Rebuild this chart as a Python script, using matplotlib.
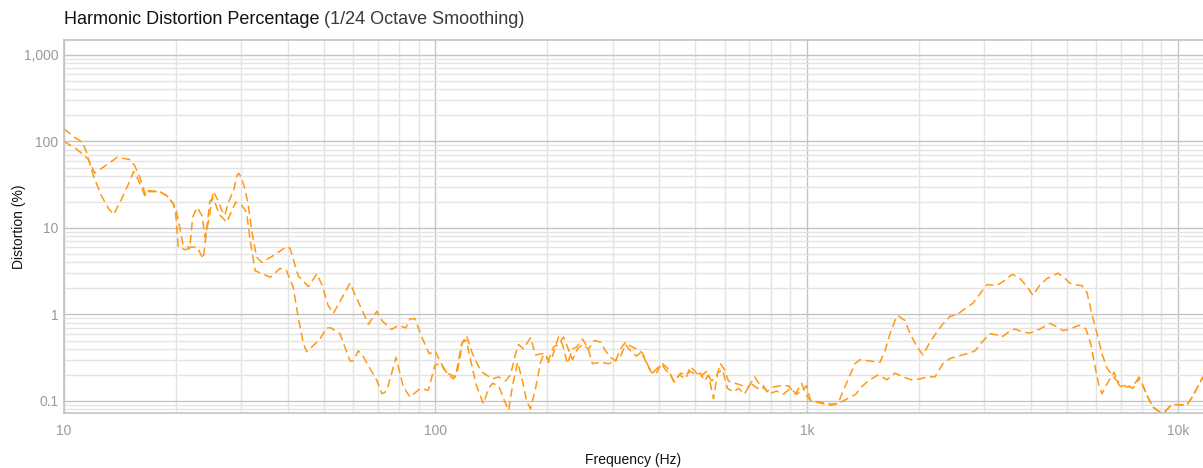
import numpy as np
import matplotlib
matplotlib.use("Agg")
import matplotlib.pyplot as plt
from matplotlib.ticker import FixedLocator, FuncFormatter, LogLocator, NullFormatter

# first harmonic trace (Hz, %)
freq_a = [10.0, 10.7, 11.2, 11.5, 12.0, 12.6, 13.2, 13.6, 14.3, 14.9, 15.4, 15.8, 16.5, 16.8,
          18.1, 18.9, 19.7, 20.0, 20.3, 21.2, 21.8, 22.2, 22.8, 23.5, 24.0, 24.6, 25.2, 26.0,
          26.6, 27.1, 27.7, 28.6, 29.2, 29.5, 30.0, 30.7, 31.3, 32.0, 33.0, 34.1, 36.6, 39.8,
          40.6, 42.7, 45.5, 47.9, 49.5, 51.4, 53.1, 58.9, 61.1, 66.0, 69.5, 71.7, 76.2, 79.4,
          83.2, 85.4, 88.1, 91.8, 96.2, 99.7, 102.8, 107.2,
          113.2, 117.5, 121.2, 125.8, 130.6, 134.6, 142.4, 147.8, 154.3, 159.2, 164.2, 167.3,
          172.5, 180.2, 185.9, 191.7, 197.8, 201.5, 206.5, 214.3, 219.7, 226.6, 233.8, 239.6,
          248.7, 256.5, 264.6, 278.0, 292.1, 305.1, 314.8, 324.7, 334.9, 347.5, 360.7, 374.4,
          383.8, 396.0, 408.3, 421.2, 437.1, 453.7, 470.9, 485.8, 504.2, 516.8, 536.4, 553.3,
          570.7, 584.9, 599.6, 614.6, 642.0, 670.7, 696.0, 722.3, 749.6, 783.0, 812.6, 848.7,
          891.8, 931.1, 966.3, 1003,
          1031, 1084, 1153, 1212, 1250, 1306, 1347, 1389, 1478, 1572, 1622, 1673, 1725, 1758,
          1836, 1894, 1978, 2052, 2143, 2238, 2323, 2426, 2533, 2630, 2797, 2940, 3051, 3246,
          3370, 3520, 3586, 3745, 3910, 4058, 4238, 4426, 4739, 4949, 5105, 5265, 5498, 5672,
          5850, 6035, 6225, 6420, 6622, 6747, 6960, 7267, 7541, 7780, 8025, 8277, 8538, 8917,
          9198, 9487, 9786, 10220, 10540, 10870, 11210, 11640]
dist_a = [140, 111, 98, 75, 40, 23.7, 16.6, 14.3, 21.7, 32, 45, 37, 23.7, 26.3,
          26.3, 23.7, 19, 14, 6.0, 5.6, 5.8, 13.3, 17.3, 14, 7.8, 13.3, 26.5, 20.7,
          15.9, 14, 19.8, 27, 40, 43, 38.5, 28, 19, 9.3, 4.6, 4.0, 4.8, 6.1,
          5.8, 2.8, 2.1, 2.95, 2.2, 1.27, 1.03, 2.3, 1.6, 0.77, 1.09, 0.85, 0.67, 0.75,
          0.70, 0.89, 0.89, 0.55, 0.35, 0.38, 0.29, 0.21,
          0.19, 0.45, 0.57, 0.35, 0.25, 0.21, 0.18, 0.19, 0.17, 0.20, 0.35, 0.45,
          0.40, 0.54, 0.34, 0.35, 0.35, 0.28, 0.33, 0.55, 0.45, 0.27, 0.40, 0.42,
          0.52, 0.42, 0.27, 0.28, 0.27, 0.29, 0.40, 0.48, 0.43, 0.40, 0.36, 0.25,
          0.21, 0.24, 0.27, 0.24, 0.17, 0.20, 0.18, 0.25, 0.21, 0.19, 0.22, 0.17,
          0.19, 0.27, 0.23, 0.17, 0.16, 0.15, 0.145, 0.19, 0.15, 0.13, 0.145, 0.15,
          0.15, 0.12, 0.16, 0.11,
          0.10, 0.095, 0.089, 0.093, 0.13, 0.20, 0.27, 0.30, 0.29, 0.28, 0.38, 0.60, 0.85, 0.97,
          0.85, 0.60, 0.42, 0.34, 0.48, 0.63, 0.78, 0.95, 1.0, 1.12, 1.35, 1.8, 2.22, 2.16,
          2.4, 2.8, 2.9, 2.6, 2.1, 1.66, 2.2, 2.6, 3.0, 2.6, 2.3, 2.2, 2.16, 1.8,
          1.0, 0.6, 0.35, 0.24, 0.20, 0.18, 0.16, 0.145, 0.15, 0.18, 0.15, 0.11, 0.085, 0.074,
          0.075, 0.087, 0.091, 0.09, 0.09, 0.11, 0.14, 0.19]

# second harmonic trace (Hz, %)
freq_b = [10.0, 10.8, 11.6, 12.1, 13.0, 13.9, 15.1, 15.5, 16.0, 16.6, 16.9, 18.1, 18.9, 19.7,
          20.0, 20.5, 20.9, 21.6, 22.8, 23.7, 24.1, 24.7, 25.3, 25.8, 26.3, 26.8, 27.4, 28.3,
          29.0, 30.1, 31.0, 31.7, 32.7, 35.9, 38.1, 39.6, 41.4, 42.7, 44.1, 45.0, 48.9, 50.9,
          52.3, 55.3, 58.9, 60.0, 62.0, 63.8, 69.5, 71.7, 73.9, 78.3, 81.9, 85.4, 90.9, 95.6,
          99.7, 102.8, 108.4,
          111.8, 114.6, 118.2, 121.2, 124.2, 128.9, 134.6, 138.9, 142.4, 147.8, 153.4, 157.3,
          161.2, 166.3, 171.5, 175.8, 180.2, 185.9, 191.7, 195.3, 201.5, 207.8, 214.3, 221.1,
          226.6, 233.8, 241.1, 248.7, 258.1, 267.9, 278.0, 286.8, 295.8, 305.1, 314.8, 324.7,
          334.9, 347.5, 358.4, 367.6, 379.2, 391.1, 405.8, 416.0, 429.1, 440.0, 456.5, 470.9,
          485.8, 501.1, 516.8, 529.7, 543.1, 560.3, 574.1, 592.2, 610.9, 634.1, 654.1, 678.8,
          704.6, 735.8, 763.6, 787.7, 827.7, 864.6, 902.8, 937.0, 966.3, 997.0,
          1022, 1084, 1153, 1212, 1250, 1306, 1355, 1389, 1459, 1553, 1642, 1725, 1813, 1905,
          2015, 2117, 2211, 2323, 2426, 2550, 2747, 2834, 2958, 3109, 3246, 3349, 3475, 3630,
          3791, 3984, 4238, 4510, 4709, 4889, 5105, 5397, 5635, 5811, 5958, 6107, 6222, 6379,
          6540, 6707, 6875, 6960, 7267, 7541, 7731, 7829, 8025, 8277, 8538, 8917, 9198, 9487,
          9786, 10220, 10540, 10870, 11210, 11640]
dist_b = [100, 82, 63, 43, 53.5, 65.5, 61.7, 52.5, 38.5, 23.7, 27, 26.3, 23.7, 19,
          17, 10, 6.5, 6.0, 6.0, 4.4, 8, 20.7, 22, 17, 14, 13, 11.6, 15.9,
          20, 18.2, 15.2, 7.2, 3.2, 2.7, 3.4, 3.3, 2.07, 0.93, 0.46, 0.37, 0.52, 0.70,
          0.70, 0.60, 0.29, 0.29, 0.38, 0.33, 0.173, 0.121, 0.13, 0.32, 0.145, 0.111, 0.139, 0.133,
          0.26, 0.27, 0.20,
          0.18, 0.22, 0.48, 0.50, 0.30, 0.15, 0.093, 0.14, 0.16, 0.15, 0.10, 0.078,
          0.15, 0.28, 0.17, 0.10, 0.081, 0.14, 0.28, 0.34, 0.30, 0.42, 0.45, 0.55,
          0.42, 0.30, 0.40, 0.45, 0.40, 0.50, 0.48, 0.38, 0.32, 0.29, 0.33, 0.45,
          0.38, 0.33, 0.37, 0.29, 0.22, 0.20, 0.27, 0.23, 0.20, 0.165, 0.21, 0.20,
          0.22, 0.20, 0.21, 0.17, 0.20, 0.106, 0.21, 0.23, 0.14, 0.127, 0.14, 0.12,
          0.16, 0.14, 0.15, 0.12, 0.13, 0.12, 0.14, 0.12, 0.13, 0.15,
          0.10, 0.097, 0.092, 0.093, 0.10, 0.11, 0.12, 0.14, 0.17, 0.20, 0.176, 0.21, 0.19, 0.176,
          0.18, 0.19, 0.19, 0.27, 0.31, 0.33, 0.36, 0.38, 0.48, 0.60, 0.58, 0.55, 0.62, 0.68,
          0.63, 0.61, 0.68, 0.79, 0.72, 0.65, 0.68, 0.75, 0.68, 0.45, 0.25, 0.15, 0.121, 0.15,
          0.18, 0.215, 0.16, 0.148, 0.15, 0.14, 0.165, 0.19, 0.15, 0.11, 0.085, 0.074, 0.075, 0.087,
          0.091, 0.09, 0.09, 0.11, 0.14, 0.19]

x_ticks = [10, 100, 1000, 10000]
x_labels = ["10", "100", "1k", "10k"]
y_ticks = [0.1, 1, 10, 100, 1000]

plt.rcParams["font.family"] = ["Liberation Sans", "DejaVu Sans"]

fig = plt.figure(figsize=(12.03, 4.68), dpi=100)
ax = fig.add_axes([64 / 1203, 1 - 413 / 468, 1 - 64 / 1203, (413 - 40) / 468])

orange = "#ff9914"
ax.plot(freq_a, dist_a, color=orange, lw=1.1, dashes=(5.5, 3))
ax.plot(freq_b, dist_b, color=orange, lw=1.1, dashes=(5.5, 3))

ax.set_xscale("log")
ax.set_yscale("log")
ax.set_xlim(10, 11640)
ax.set_ylim(0.0726, 1490)

ax.xaxis.set_major_locator(FixedLocator(x_ticks))
ax.xaxis.set_major_formatter(FuncFormatter(lambda v, p: x_labels[x_ticks.index(v)] if v in x_ticks else ""))
ax.xaxis.set_minor_locator(LogLocator(base=10, subs=np.arange(2, 10)))
ax.xaxis.set_minor_formatter(NullFormatter())
ax.yaxis.set_major_locator(FixedLocator(y_ticks))
ax.yaxis.set_major_formatter(FuncFormatter(lambda v, p: f"{v:,g}"))
ax.yaxis.set_minor_locator(LogLocator(base=10, subs=np.arange(2, 10)))
ax.yaxis.set_minor_formatter(NullFormatter())

ax.grid(True, which="major", color="#c4c4c4", lw=1.0)
ax.grid(True, which="minor", color="#e4e4e4", lw=1.0)
ax.set_axisbelow(True)

ax.tick_params(which="both", length=0)
ax.tick_params(axis="y", labelsize=10, labelcolor="#9a9a9a", pad=4)
ax.tick_params(axis="x", labelsize=10, labelcolor="#9a9a9a", pad=8)

for side in ["left", "bottom", "top"]:
    ax.spines[side].set_color("#c4c4c4")
    ax.spines[side].set_linewidth(1.2)
ax.spines["right"].set_visible(False)

ax.set_xlabel("Frequency (Hz)", fontsize=10, color="#111111", labelpad=11)
ax.set_ylabel("Distortion (%)", fontsize=10, color="#111111")
ax.yaxis.set_label_coords(-38 / 1139, 0.5)

# two-part title, second part lighter
t1 = fig.text(64 / 1203, 1 - 19 / 468, "Harmonic Distortion Percentage", fontsize=13,
              color="#111111", ha="left", va="center")
fig.canvas.draw()
bb = t1.get_window_extent()
fig.text(bb.x1 / fig.bbox.width + 4 / 1203, 1 - 19 / 468, "(1/24 Octave Smoothing)",
         fontsize=13, color="#3a3a3a", ha="left", va="center")

fig.savefig("out.png", dpi=100)
